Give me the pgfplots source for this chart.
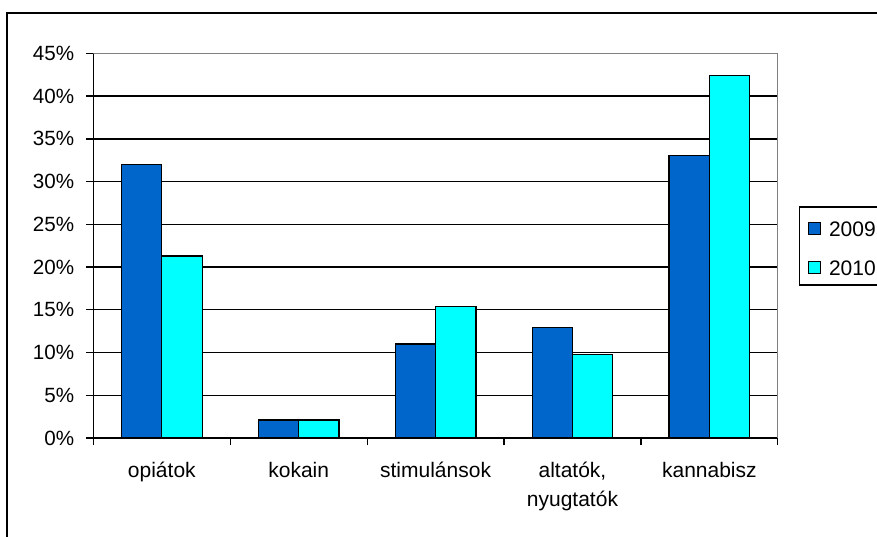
\documentclass[border=0pt]{standalone}
\usepackage{pgfplots}
\pgfplotsset{compat=1.18}
\usepackage{fontspec}
\setmainfont{Liberation Sans}

\definecolor{bar2009}{HTML}{0066CC}
\definecolor{bar2010}{HTML}{00FFFF}

\begin{document}
\begin{tikzpicture}[x=1pt,y=1pt]
  \useasboundingbox (0,0) rectangle (438.5,268);
  \clip (0,0) rectangle (438.5,268);
  % outer chart frame (only left and top edges fall inside the picture)
  \draw[line width=1pt] (3.6,-5) -- (3.6,261.5) -- (445,261.5);

  \begin{axis}[
      at={(46.7pt,49pt)}, anchor=south west,
      scale only axis,
      width=342.2pt, height=192.3pt,
      ybar=0pt, bar width=20.15pt,
      xmin=0.5, xmax=5.5,
      ymin=0, ymax=45,
      axis x line*=bottom, axis y line*=left,
      axis line style={black, line width=0.65pt},
      every tick/.style={black, line width=0.65pt},
      tick align=outside,
      major tick length=3.6pt,
      xtick={0.5,1.5,2.5,3.5,4.5,5.5},
      x tick label as interval,
      xticklabels={opiátok, kokain, stimulánsok, {altatók,\\nyugtatók}, kannabisz},
      xticklabel style={align=center, font=\fontsize{10.5}{14.4}\selectfont, yshift=-5pt},
      ytick={0,5,...,45},
      yticklabel={\pgfmathprintnumber{\tick}\%},
      yticklabel style={font=\fontsize{10.3}{12.4}\selectfont, xshift=-2.5pt},
      /pgf/number format/assume math mode=true,
      ymajorgrids,
      grid style={black, line width=0.65pt},
      legend style={
        at={(rel axis cs:1.0307,0.602)}, anchor=north west,
        draw=black, line width=0.65pt,
        font=\fontsize{10.5}{12.6}\selectfont,
        inner xsep=4pt, inner ysep=4.6pt,
        row sep=9.4pt,
        nodes={inner sep=0pt, text height=9.85pt, text depth=0pt, anchor=base west},
        legend cell align=left,
      },
      legend image code/.code={
        \draw[#1, draw=black, line width=0.5pt] (0pt,0.7pt) rectangle (6.2pt,6.9pt);
        \path (0pt,0pt) (10.2pt,0pt);
      },
    ]
    \addplot[fill=bar2009, draw=black, line width=0.6pt] coordinates {
      (1,32.0) (2,2.1) (3,11.0) (4,12.9) (5,33.1)
    };
    \addplot[fill=bar2010, draw=black, line width=0.6pt] coordinates {
      (1,21.3) (2,2.1) (3,15.4) (4,9.8) (5,42.4)
    };
    \legend{2009,2010}
    % plot-area border on top and right is grey
    \draw[gray, line width=0.65pt] (rel axis cs:0,1) -- (rel axis cs:1,1) -- (rel axis cs:1,0);
  \end{axis}
\end{tikzpicture}
\end{document}
